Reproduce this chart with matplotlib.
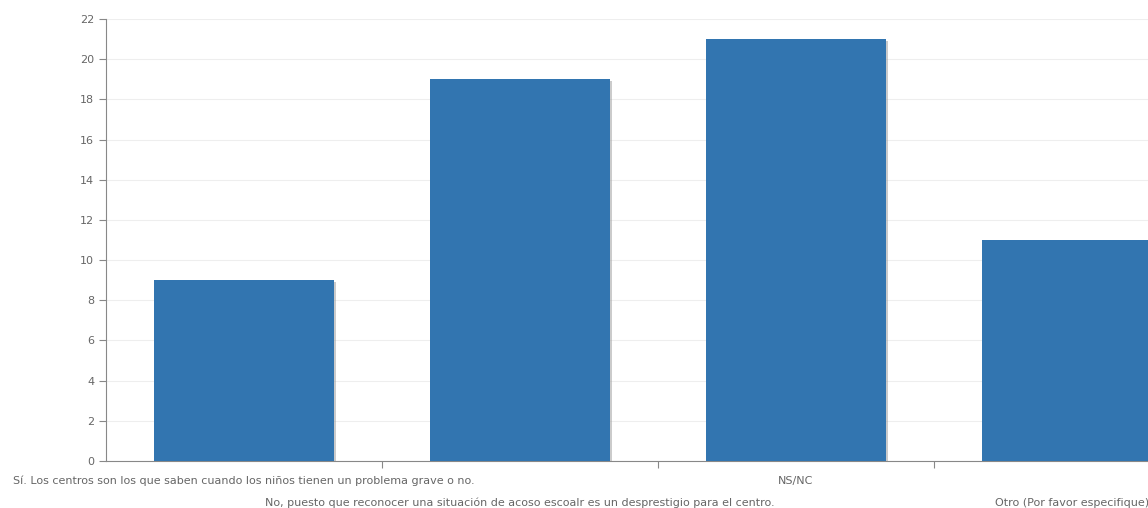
import matplotlib.pyplot as plt
import matplotlib.patheffects as pe

# Datos
categorias = [
    "Sí. Los centros son los que saben cuando los niños tienen un problema grave o no.",
    "No, puesto que reconocer una situación de acoso escoalr es un desprestigio para el centro.",
    "NS/NC",
    "Otro (Por favor especifique)",
]
valores = [9, 19, 21, 11]
yticks = list(range(0, 23, 2))

color_barra = '#3275b0'
color_texto = '#666666'

fig = plt.figure(figsize=(11.48, 5.08), dpi=100)
# el eje se sale por la derecha, igual que en la captura original
ax = fig.add_axes([106 / 1148, 47 / 508, 1104 / 1148, 442 / 508])

x = list(range(len(categorias)))
barras = ax.bar(x, valores, width=0.65, color=color_barra, zorder=3)
for b in barras:
    b.set_path_effects([pe.SimplePatchShadow(offset=(1.5, -1.5), shadow_rgbFace='#999999', alpha=0.5),
                        pe.Normal()])

ax.set_xlim(-0.5, len(categorias) - 0.5)
ax.set_ylim(0, 22)
ax.set_yticks(yticks)
ax.set_xticks([i + 0.5 for i in x])
ax.set_xticklabels([])

ax.grid(axis='y', color='#eeeeee', linewidth=0.8, zorder=0)
for lado in ['top', 'right']:
    ax.spines[lado].set_visible(False)
ax.spines['left'].set_color('#888888')
ax.spines['bottom'].set_color('#888888')
ax.tick_params(axis='y', colors='#888888', labelcolor=color_texto, labelsize=8, length=5)
ax.tick_params(axis='x', colors='#888888', length=5)

# etiquetas en dos filas alternadas
for i, cat in enumerate(categorias):
    desplaz = -14.4 if i % 2 == 0 else -30.2
    ax.annotate(cat, xy=(i, 0), xycoords=ax.get_xaxis_transform(),
                xytext=(0, desplaz), textcoords='offset points',
                ha='center', va='center', fontsize=8, color=color_texto)

fig.savefig('out.png', dpi=100)
